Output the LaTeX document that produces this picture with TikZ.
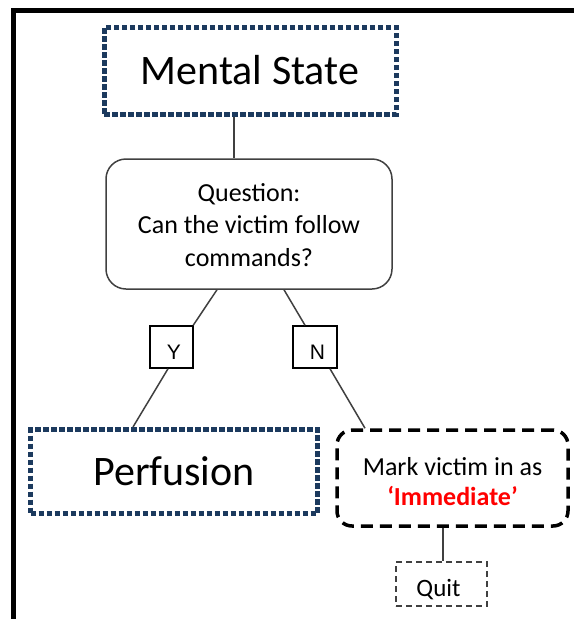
\documentclass[tikz,border=0pt]{standalone}
\usepackage{fontspec}
\setmainfont{Carlito}
\newfontfamily\ynfont{Liberation Sans}
\definecolor{navy}{HTML}{1C3A5E}
\definecolor{wire}{HTML}{404040}
\definecolor{alert}{HTML}{FF0000}
% lower the ink by #1 while keeping the box size
\newcommand{\lowered}[2]{\raisebox{-#1}[\height][\depth]{#2}}
\newcommand{\lowstack}[2]{\lowered{#1}{\begin{tabular}{@{}c@{}}#2\end{tabular}}}
\begin{document}
\begin{tikzpicture}[x=1pt,y=-1pt,
  dotbox/.style={draw=navy, line width=5pt, dash pattern=on 5.5pt off 2.5pt,
    inner sep=0pt, font=\fontsize{42}{50}\selectfont},
  qbox/.style={draw=wire, line width=1.5pt, rounded corners=20pt, inner sep=0pt,
    font=\fontsize{26}{32.5}\selectfont},
  ynbox/.style={draw=black, line width=1.5pt, inner sep=0pt,
    minimum width=43pt, minimum height=42pt, font=\ynfont\fontsize{21}{24}\selectfont},
  markbox/.style={draw=black, line width=3.5pt, dash pattern=on 12pt off 7pt,
    rounded corners=15pt, inner sep=0pt, font=\fontsize{26}{30}\selectfont},
  quitbox/.style={draw=wire, line width=1.5pt, dash pattern=on 6pt off 4pt,
    inner sep=0pt, font=\fontsize{25}{30}\selectfont},
  link/.style={draw=wire, line width=1.5pt}]
\useasboundingbox (0,0) rectangle (574,619);

% page frame (left and top edges)
\draw[line width=5pt] (13,619) -- (13,10.5) -- (574,10.5);

% boxes
\node[dotbox, minimum width=292pt, minimum height=87pt] (ms) at (250,70.5) {Mental State};
\node[qbox, minimum width=286pt, minimum height=130pt] (q) at (249,224)
  {\lowstack{3pt}{Question:\\Can the victim follow\\commands?}};
\node[ynbox] (y) at (171.5,347) {\hspace*{5pt}\lowered{5pt}{Y}};
\node[ynbox, minimum width=44pt] (n) at (315,347) {\hspace*{5pt}\lowered{5pt}{N}};
\node[dotbox, minimum width=287pt, minimum height=84pt] (pf) at (174,471.5) {Perfusion};
\node[markbox, minimum width=231pt, minimum height=96pt] (mk) at (452.5,478)
  {\lowstack{6pt}{Mark victim in as\\\textcolor{alert}{\bfseries ‘Immediate’}}};
\node[quitbox, minimum width=91pt, minimum height=44pt] (qt) at (441.5,584)
  {\hspace*{-6pt}\lowered{6pt}{Quit}};

% connectors
\draw[link] ([xshift=-16pt]ms.south) -- ([xshift=-16pt]ms.south |- q.north);
\draw[link] ([xshift=-32pt]q.south) -- ([xshift=-0.5pt]y.north east);
\draw[link] ([xshift=-3.5pt]y.south) -- ([xshift=-41pt]pf.north);
\draw[link] ([xshift=35pt]q.south) -- ([xshift=-10pt]n.north);
\draw[link] ([xshift=15pt]n.south) -- ([xshift=-87.5pt]mk.north);
\draw[link] ([xshift=-9.5pt]mk.south) -- ([xshift=-9.5pt]mk.south |- qt.north);
\end{tikzpicture}
\end{document}
